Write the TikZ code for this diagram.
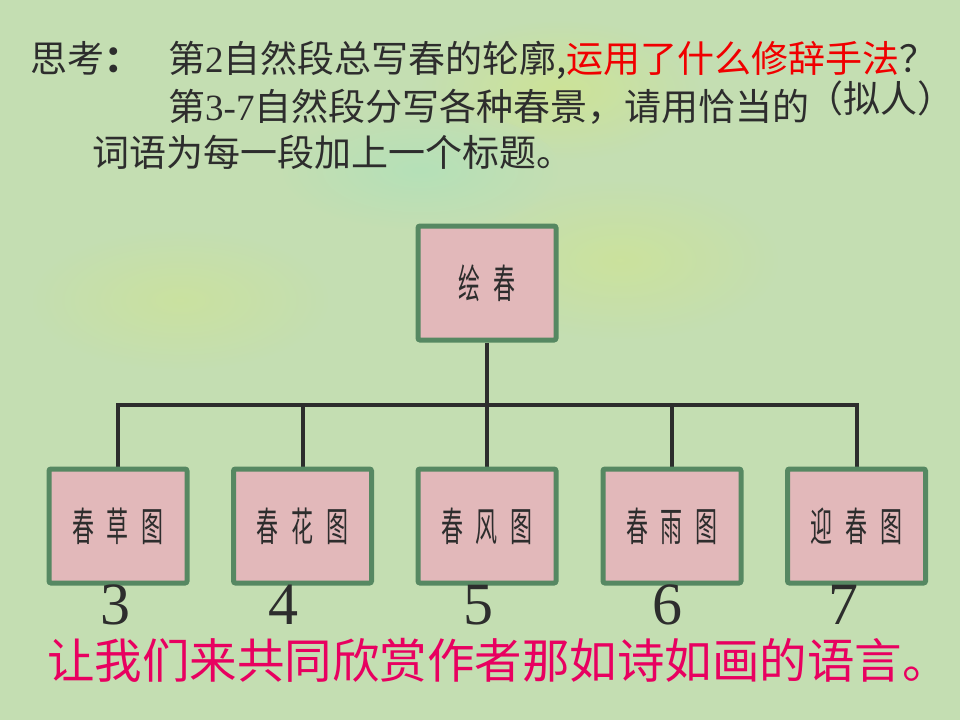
\documentclass[tikz,border=0pt]{standalone}
\usepackage{fontspec}
\setmainfont{Liberation Serif}
\newfontfamily\cjk{Noto Sans CJK SC}
\newfontfamily\boxcjk[FakeStretch=0.55]{Noto Sans CJK SC}
\usetikzlibrary{backgrounds}
\definecolor{bgc}{RGB}{196,222,178}
\definecolor{boxfill}{RGB}{226,184,186}
\definecolor{boxline}{RGB}{86,136,98}
\definecolor{ink}{RGB}{45,45,45}
\definecolor{redtxt}{RGB}{240,0,0}
\definecolor{magtxt}{RGB}{232,0,96}
\tikzset{
  box/.style={draw=boxline, line width=5pt, fill=boxfill, rounded corners=2pt,
    minimum width=138pt, minimum height=114pt, inner sep=0pt,
    font=\boxcjk\fontsize{40}{42}\selectfont, text=ink},
  conn/.style={draw=ink, line width=4pt},
  numtxt/.style={font=\fontsize{60}{60}\selectfont, text=ink, anchor=base, inner sep=0pt},
  toptxt/.style={font=\cjk\fontsize{37}{40}\selectfont, text=ink, anchor=base west, inner sep=0pt}
}
\begin{document}
\begin{tikzpicture}[x=1pt,y=-1pt]
\useasboundingbox (0,0) rectangle (960,720);
\begin{scope}[on background layer]
  \fill[bgc] (0,0) rectangle (960,720);
  \shade[inner color=yellow!25!bgc, outer color=bgc, opacity=0.6] (560,90) ellipse (140 and 70);
  \shade[inner color=yellow!20!bgc, outer color=bgc, opacity=0.6] (620,260) ellipse (160 and 80);
  \shade[inner color=cyan!15!bgc, outer color=bgc, opacity=0.5] (420,170) ellipse (140 and 60);
  \shade[inner color=yellow!20!bgc, outer color=bgc, opacity=0.5] (180,300) ellipse (150 and 70);
\end{scope}

% title text
\node[toptxt] (t1a) at (30,72) {思考\textbf{：}};
\node[toptxt] (t1b) at (168,72) {第{\rmfamily 2}自然段总写春的轮廓,\textcolor{redtxt}{运用了什么修辞手法}？};
\node[toptxt] (t2) at (168,120) {第{\rmfamily 3-7}自然段分写各种春景，请用恰当的};
\node[toptxt] (t2b) at (806,112) {（拟人）};
\node[toptxt] (t3) at (92,166) {词语为每一段加上一个标题。};

% boxes
\node[box] (top) at (487,283) {绘\hspace{13pt}春};
\node[box] (b1) at (118,526) {春\hspace{13pt}草\hspace{13pt}图};
\node[box] (b2) at (302.5,526) {春\hspace{13pt}花\hspace{13pt}图};
\node[box] (b3) at (487,526) {春\hspace{13pt}风\hspace{13pt}图};
\node[box] (b4) at (672,526) {春\hspace{13pt}雨\hspace{13pt}图};
\node[box] (b5) at (856.5,526) {迎\hspace{13pt}春\hspace{13pt}图};

% connectors
\coordinate (busy) at (0,405);
\begin{scope}[on background layer]
  \draw[conn] (top.south) -- (top.south |- busy);
  \draw[conn, line cap=rect] (b1.north |- busy) -- (b5.north |- busy);
  \foreach \b in {b1,b2,b3,b4,b5} {
    \draw[conn] (\b.north |- busy) -- (\b.north);
  }
\end{scope}

% numbers
\node[numtxt] (n3) at (115,624) {3};
\node[numtxt] (n4) at (283,624) {4};
\node[numtxt] (n5) at (478,624) {5};
\node[numtxt] (n6) at (667,624) {6};
\node[numtxt] (n7) at (843,624) {7};

% bottom line
\node[font=\cjk\fontsize{47.5}{50}\selectfont, text=magtxt, anchor=base west, inner sep=0pt] (bottom) at (47,678) {让我们来共同欣赏作者那如诗如画的语言。};
\end{tikzpicture}
\end{document}
